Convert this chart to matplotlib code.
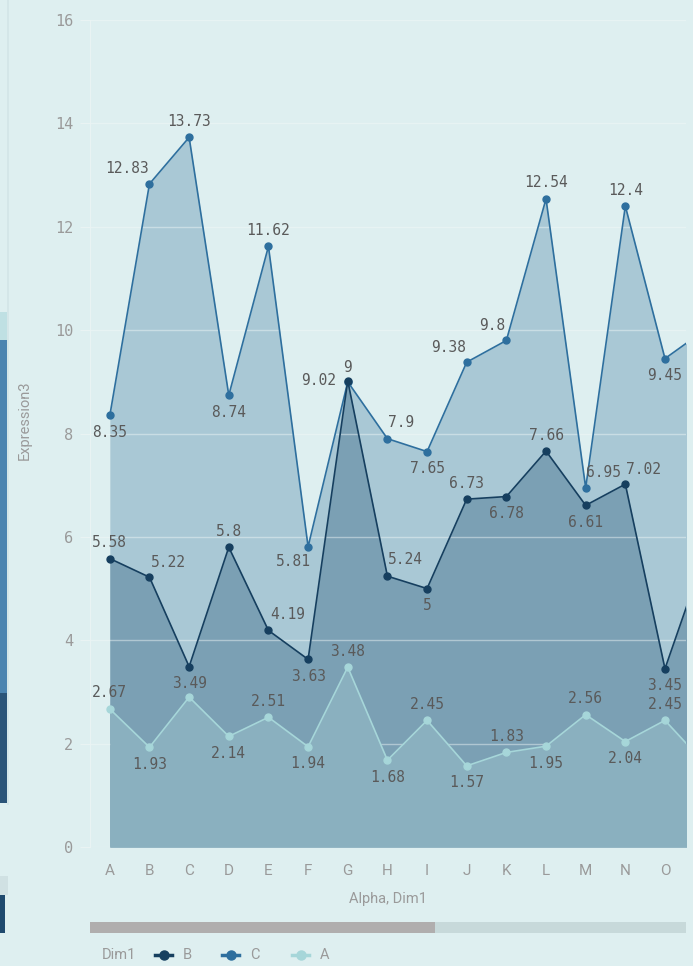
import matplotlib
matplotlib.use("Agg")
import matplotlib.pyplot as plt
from matplotlib.patches import Rectangle
from matplotlib.lines import Line2D

# data (last point "P" is only partly visible at the right edge)
categories = list("ABCDEFGHIJKLMNOP")
series_c = [8.35, 12.83, 13.73, 8.74, 11.62, 5.81, 9.0, 7.9, 7.65, 9.38, 9.8, 12.54, 6.95, 12.4, 9.45, 10.0]
series_b = [5.58, 5.22, 3.49, 5.8, 4.19, 3.63, 9.02, 5.24, 5.0, 6.73, 6.78, 7.66, 6.61, 7.02, 3.45, 5.66]
series_a = [2.67, 1.93, 2.9, 2.14, 2.51, 1.94, 3.48, 1.68, 2.45, 1.57, 1.83, 1.95, 2.56, 2.04, 2.45, 1.62]
yticks = [0, 2, 4, 6, 8, 10, 12, 14, 16]

# label placement per point (pixel offsets), None = no label
above, below = (0, 16), (0, -17)
pos_c = [below, (-22, 15), above, below, above, (-15, -15), (0, 14), (14, 16), below,
         (-18, 15), (-14, 15), above, (18, 15), above, below]
pos_b = [above, (19, 15), below, above, (19, 16), below, (-29, 0), (18, 17), below,
         above, below, above, below, (18, 15), below]
pos_a = [above, below, None, below, above, below, above, below, above,
         below, above, below, above, below, above]

bg = "#deeff0"
col_c, fill_c = "#2e6f9e", "#a9c8d5"
col_b, fill_b = "#163f5f", "#7ba0b4"
col_a, fill_a = "#a6d6d9", "#8ab0bf"

W, H = 693, 966
fig = plt.figure(figsize=(W / 100, H / 100), dpi=100, facecolor=bg)
ax = fig.add_axes([90 / W, 1 - 847 / H, (686 - 90) / W, (847 - 20) / H])
ax.set_facecolor(bg)

x = list(range(len(categories)))
ax.fill_between(x, series_c, color=fill_c, lw=0, zorder=1)
ax.fill_between(x, series_b, color=fill_b, lw=0, zorder=2)
ax.fill_between(x, series_a, color=fill_a, lw=0, zorder=3)
ax.plot(x, series_c, color=col_c, lw=1.2, marker="o", ms=5, zorder=5)
ax.plot(x, series_b, color=col_b, lw=1.2, marker="o", ms=5, zorder=6)
ax.plot(x, series_a, color=col_a, lw=1.2, marker="o", ms=5, zorder=7)

for vals, pos in [(series_c, pos_c), (series_b, pos_b), (series_a, pos_a)]:
    for i, p in enumerate(pos):
        if p is None:
            continue
        ax.annotate(f"{vals[i]:g}", (i, vals[i]), xytext=p, textcoords="offset pixels",
                    ha="center", va="center", fontsize=10.5, color="#5a5a5a",
                    family="DejaVu Sans Mono", zorder=10)

ax.set_xlim(-0.5, 14.53)
ax.set_ylim(0, 16)
ax.set_yticks(yticks)
ax.set_yticklabels([str(t) for t in yticks], family="DejaVu Sans Mono")
ax.set_xticks(x[:15])
ax.set_xticklabels(categories[:15], family="Roboto")
ax.grid(axis="y", color="#f2f8f8", alpha=0.45, lw=1, zorder=4)
ax.set_axisbelow(False)
ax.tick_params(axis="y", length=7, color="#e9f3f3", labelcolor="#9a9a9a", labelsize=11, pad=5)
ax.tick_params(axis="x", length=0, labelcolor="#9a9a9a", labelsize=11, pad=12)
for s in ["top", "right", "bottom"]:
    ax.spines[s].set_visible(False)
ax.spines["left"].set_color("#e9f3f3")
ax.set_xlabel("Alpha, Dim1", color="#9a9a9a", fontsize=10.5, family="Roboto", labelpad=10)
fig.text(25 / W, 1 - 420 / H, "Expression3", color="#9a9a9a", fontsize=10.5, family="Roboto",
         rotation=90, ha="center", va="center")


def rect(x0, y0, x1, y1, color):
    fig.add_artist(Rectangle((x0 / W, 1 - y1 / H), (x1 - x0) / W, (y1 - y0) / H,
                             transform=fig.transFigure, color=color, lw=0))


# fragments of the neighbouring panel on the left
rect(7, 0, 9, 805, "#d4e6e8")
rect(0, 312, 7, 340, "#bfe0e3")
rect(0, 340, 7, 693, "#4b84b0")
rect(0, 693, 7, 803, "#2a5478")
rect(0, 876, 8, 895, "#d0e1e3")
rect(0, 895, 5, 933, "#1f4a6e")

# scrollbar
rect(90, 922, 435, 933, "#b0aeae")
rect(435, 922, 686, 933, "#c7d9da")

# legend
ly = 1 - 955 / H
fig.text(102 / W, ly, "Dim1", color="#9a9a9a", fontsize=10.5, family="Roboto", va="center")
for x0, lab, c in [(155, "B", col_b), (222, "C", col_c), (292, "A", col_a)]:
    fig.add_artist(Line2D([x0 / W, (x0 + 17) / W], [ly, ly], transform=fig.transFigure,
                          color=c, lw=2.5))
    fig.add_artist(Line2D([(x0 + 8.5) / W], [ly], transform=fig.transFigure,
                          color=c, marker="o", ms=6.5, lw=0))
    fig.text((x0 + 28) / W, ly, lab, color="#9a9a9a", fontsize=10.5, family="Roboto", va="center")

fig.savefig("out.png", dpi=100, facecolor=bg)
